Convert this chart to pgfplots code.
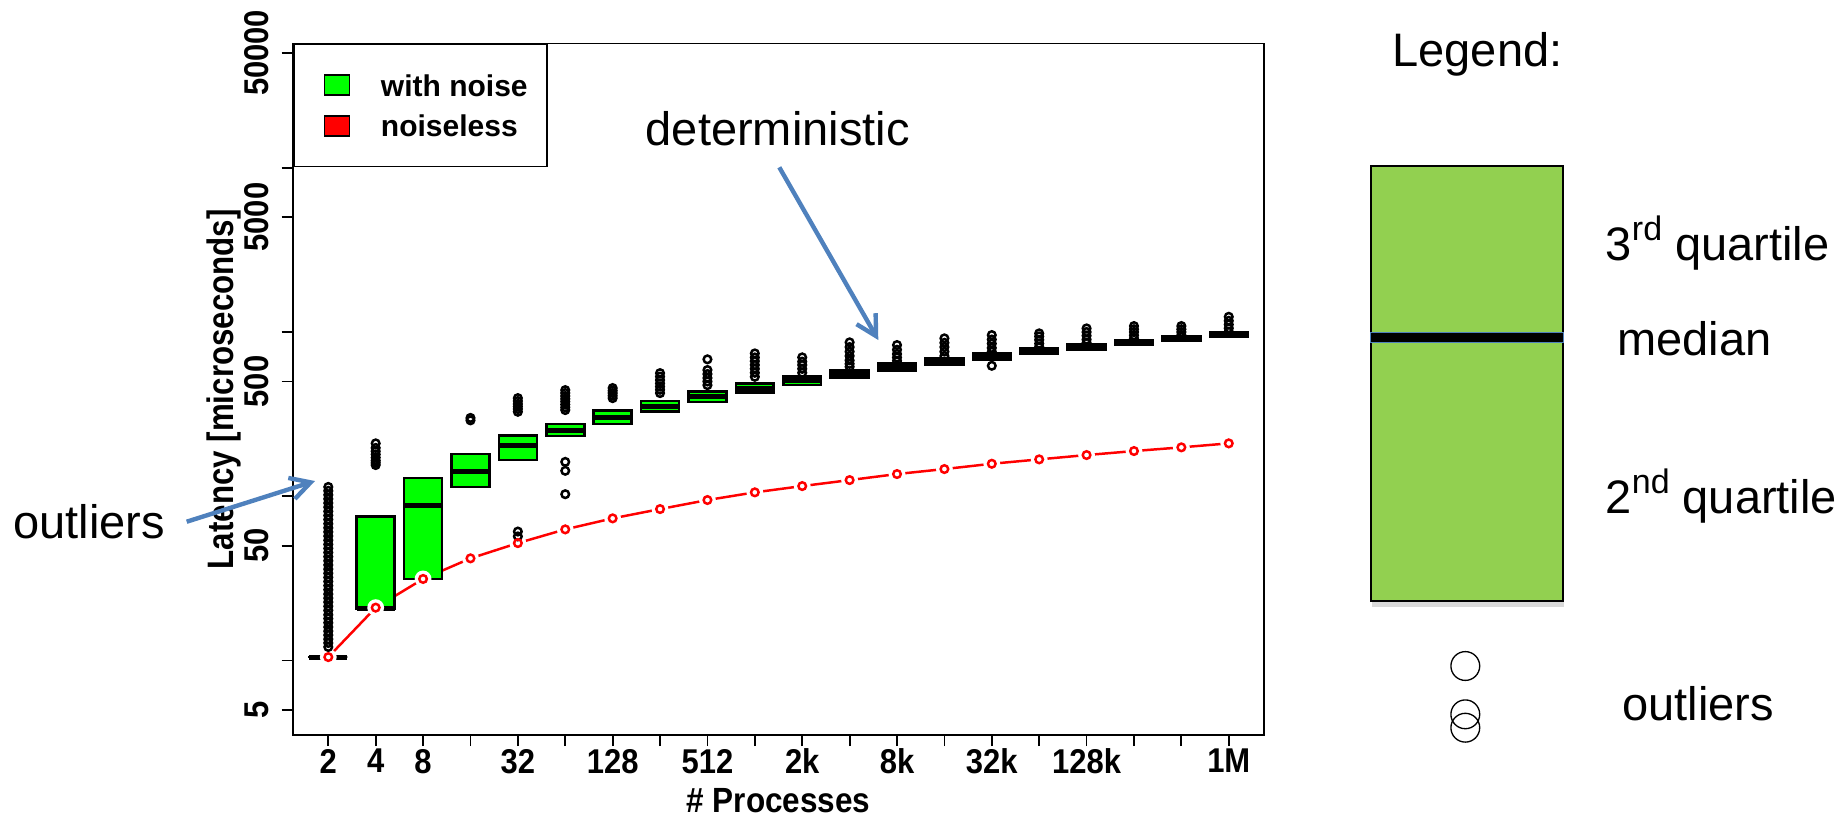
\documentclass[border=0pt]{standalone}
\usepackage{fontspec}
\setmainfont{Liberation Sans}
\newfontfamily\chartfont[FakeStretch=0.9]{Liberation Sans}
\newfontfamily\ylabfont[FakeStretch=0.85]{Liberation Sans}
\usepackage{pgfplots}
\pgfplotsset{compat=1.18}
\usepackage{pgfplotstable}
\usetikzlibrary{arrows.meta}

\definecolor{boxgreen}{RGB}{0,255,0}
\definecolor{leggreen}{RGB}{146,208,80}
\definecolor{arrowblue}{RGB}{79,129,189}

% quartiles of the "with noise" runs
\pgfplotstableread{
pos q1 med q3
1 10.5 10.5 10.5
2 20.8 20.8 75.5
3 31.4 87.6 129
4 114 141 181
5 166 205 234
6 233 253 275
7 275 302 332
8 327 354 381
9 376 403 433
10 427 456 487
11 475 505 534
12 530 557 587
13 581 612 644
14 629 659 691
15 682 711 741
16 734 765 795
17 784 813 845
18 833 865 893
19 890 919 944
20 932 967 995
}\boxdata

% outliers of the "with noise" runs
\pgfplotstableread{
x y
1 12.1
1 12.8
1 13.5
1 14.3
1 15.1
1 16
1 17
1 18
1 19
1 20.2
1 21.4
1 22.7
1 24
1 25.4
1 27
1 28.6
1 30.3
1 32.1
1 34
1 36
1 38.2
1 40.5
1 42.9
1 45.5
1 48.2
1 51
1 54
1 57.3
1 60.7
1 64.3
1 68.1
1 72.2
1 76.5
1 81
1 85.9
1 91
1 96.4
1 102
1 108
1 114
2 155
2 160
2 165
2 172
2 180
2 188
2 197
2 210
4 290
4 300
5 57
5 61
5 327
5 340
5 352
5 365
5 380
5 396
6 103
6 143
6 162
6 335
6 348
6 362
6 377
6 392
6 408
6 425
6 443
7 396
7 410
7 425
7 440
7 456
8 425
8 445
8 465
8 487
8 510
8 535
8 562
9 475
9 500
9 525
9 555
9 587
9 682
10 534
10 565
10 597
10 630
10 665
10 700
10 741
11 565
11 597
11 630
11 660
11 701
12 614
12 640
12 672
12 715
12 760
12 810
12 865
13 668
13 700
13 735
13 780
13 833
14 714
14 760
14 810
14 860
14 915
15 623
15 758
15 800
15 850
15 900
15 958
16 813
16 850
16 895
16 940
16 981
17 860
17 900
17 950
17 1000
17 1052
18 915
18 955
18 1000
18 1040
18 1087
19 958
19 1000
19 1040
19 1087
20 1004
20 1055
20 1110
20 1170
20 1238
}\outliers

% noiseless latency
\pgfplotstableread{
x y
1 10.5
2 21
3 31.4
4 41.9
5 51.9
6 62.9
7 73.4
8 83.6
9 94.9
10 105.7
11 115.4
12 125.5
13 136.6
14 146.5
15 157.8
16 167.8
17 178.3
18 188.6
19 198.6
20 210
}\noiseless

\begin{document}
\begin{tikzpicture}
\begin{axis}[
  scale only axis,
  width=242.9pt, height=172.9pt,
  ymode=log,
  xmin=0.249, xmax=20.75,
  ymin=3.523, ymax=57120,
  axis line style={line width=0.45pt},
  tick style={black, line width=0.45pt},
  tick align=outside, tick pos=left,
  major tick length=2.75pt,
  yminorticks=false,
  xtick={1,...,20},
  xticklabels={2,4,8,,32,,128,,512,,2k,,8k,,32k,,128k,,,1M},
  ytick={5,10,50,100,500,1000,5000,10000,50000},
  yticklabels={5,,50,,500,,5000,,50000},
  tick label style={font=\chartfont\bfseries\fontsize{8.6}{10}\selectfont},
  xticklabel style={inner sep=0pt, anchor=north},
  yticklabel style={rotate=90, anchor=south, inner sep=0pt},
  xticklabel shift=0.55pt,
  yticklabel shift=2.95pt,
  xlabel={\# Processes},
  ylabel={Latency [microseconds]},
  xlabel style={font=\chartfont\bfseries\fontsize{8.75}{10}\selectfont,
    at={(axis description cs:0.5,-0.1117)}, anchor=base, inner sep=0pt},
  ylabel style={font=\ylabfont\bfseries\fontsize{9.2}{10}\selectfont,
    at={(axis description cs:-0.0613,0.5)}, anchor=base, inner sep=0pt},
  legend cell align=left,
  legend style={at={(0,1)}, anchor=north west, draw=black, line width=0.45pt,
    fill=white, inner xsep=4.4pt, inner ysep=7.5pt, row sep=4.66pt,
    column sep=7.65pt, nodes={inner sep=0pt, text depth=0pt},
    font=\bfseries\fontsize{7.5}{9}\selectfont},
  legend image code/.code={\path (0pt,0pt);
    \draw[#1, line width=0.45pt] (3.1pt,-2.5pt) rectangle (9.35pt,2.5pt);},
]
% noiseless: line, gaps, then circles on top of everything
\addplot[forget plot, red, line width=0.62pt, mark=none] table[x=x,y=y]{\noiseless};
\addplot[forget plot, only marks, mark=*, mark size=1.9pt,
  mark options={draw=white, fill=white}] table[x=x,y=y]{\noiseless};

% boxes: quartile box (width 0.8) and median line, read from \boxdata
\pgfplotsinvokeforeach{0,...,19}{
  \pgfplotstablegetelem{#1}{pos}\of\boxdata
  \pgfmathsetmacro\xl{\pgfplotsretval-0.4}
  \pgfmathsetmacro\xr{\pgfplotsretval+0.4}
  \pgfplotstablegetelem{#1}{q1}\of\boxdata\let\bqa\pgfplotsretval
  \pgfplotstablegetelem{#1}{med}\of\boxdata\let\bqm\pgfplotsretval
  \pgfplotstablegetelem{#1}{q3}\of\boxdata\let\bqc\pgfplotsretval
  \edef\doplot{%
    \noexpand\addplot[forget plot, fill=boxgreen, draw=black, line width=0.65pt,
      line cap=rect, line join=miter, mark=none]
      coordinates {(\xl,\bqa) (\xr,\bqa) (\xr,\bqc) (\xl,\bqc) (\xl,\bqa)};
    \noexpand\addplot[forget plot, black, line width=1.25pt, mark=none]
      coordinates {(\xl,\bqm) (\xr,\bqm)};
  }%
  \doplot
}

% outliers
\addplot[forget plot, only marks, mark=o, mark size=0.95pt,
  mark options={black, line width=0.62pt}] table[x=x,y=y]{\outliers};

% noiseless circles
\addplot[forget plot, only marks, mark=o, mark size=0.95pt,
  mark options={red, line width=0.62pt}] table[x=x,y=y]{\noiseless};

\addlegendimage{fill=boxgreen, draw=black}
\addlegendentry{\makebox[37pt][l]{with noise}}
\addlegendimage{fill=red, draw=black}
\addlegendentry{\makebox[37pt][l]{noiseless}}
\end{axis}

\begin{scope}[shift={(-73.175pt,183.75pt)}, x=0.25pt, y=-0.25pt]
  \useasboundingbox (0,0) rectangle (1842,818);
  \begin{scope}[font=\fontsize{11.75}{14}\selectfont, every node/.style={inner sep=0pt, anchor=base west}]
    \node at (12.7,538.3) {outliers};
    \node at (645,145) {deterministic};
    \node at (1391.7,66.7) {Legend:};
    \node at (1605,260) {3\raisebox{0.42em}{\fontsize{8.5}{10}\selectfont rd} quartile};
    \node at (1616.7,355) {median};
    \node at (1605,513.3) {2\raisebox{0.42em}{\fontsize{8.5}{10}\selectfont nd} quartile};
    \node at (1621.7,720.7) {outliers};
  \end{scope}
  \draw[arrowblue, line width=1.1pt, -{Straight Barb[length=5pt,width=5.5pt]}] (186.7,521.7) -- (315,481);
  \draw[arrowblue, line width=1.1pt, -{Straight Barb[length=5pt,width=5.5pt]}] (779.3,167.3) -- (878.3,340);
  % legend illustration
  \fill[black!15] (1371.7,169.7) rectangle (1564.3,606.7);
  \draw[fill=leggreen, line width=0.42pt] (1370.7,165.7) rectangle (1563.3,600.7);
  \draw[fill=black, draw=arrowblue, line width=0.3pt] (1370.7,332.7) rectangle (1563.3,342.3);
  \draw[line width=0.33pt] (1465.3,666) circle[radius=3.6pt];
  \draw[line width=0.33pt] (1465.3,714.3) circle[radius=3.6pt];
  \draw[line width=0.33pt] (1465.3,727.7) circle[radius=3.6pt];
\end{scope}
\end{tikzpicture}
\end{document}
